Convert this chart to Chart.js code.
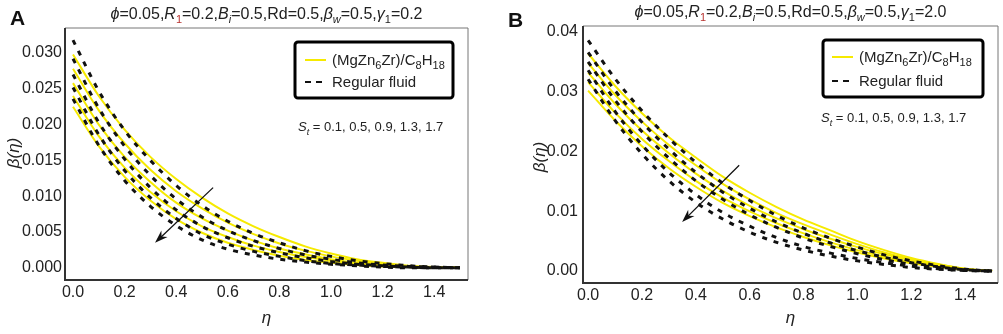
<!DOCTYPE html>
<html lang="en">
<head>
<meta charset="UTF-8">
<title>β(η) profiles</title>
<script src="https://cdn.jsdelivr.net/npm/chart.js"></script>
<style>
body { margin: 0; background: #fff; }
.panel { position: absolute; top: 0; }
</style>
</head>
<body>
<div class="panel" style="left:0"><canvas id="chartA" width="500" height="334"></canvas></div>
<div class="panel" style="left:500px"><canvas id="chartB" width="503" height="334"></canvas></div>
<script>
// eta grid the curves were read on
const eta = [0.0, 0.1, 0.2, 0.3, 0.4, 0.5, 0.6, 0.7, 0.8, 0.9, 1.0, 1.1, 1.2, 1.3, 1.4, 1.5];
const stValues = ['0.1', '0.5', '0.9', '1.3', '1.7'];

// panel A (gamma1 = 0.2), one row per St
const nanoA = [
   [0.0298, 0.0240, 0.0193, 0.0155, 0.0124, 0.0098, 0.0076, 0.0058, 0.0043, 0.0030, 0.0020, 0.0012, 0.0007, 0.0003, 0.0001, 0.0000],
   [0.0278, 0.0220, 0.0174, 0.0137, 0.0107, 0.0083, 0.0063, 0.0047, 0.0034, 0.0024, 0.0016, 0.0010, 0.0005, 0.0002, 0.0001, 0.0000],
   [0.0258, 0.0200, 0.0155, 0.0120, 0.0091, 0.0069, 0.0052, 0.0038, 0.0027, 0.0019, 0.0012, 0.0007, 0.0004, 0.0002, 0.0001, 0.0000],
   [0.0240, 0.0184, 0.0140, 0.0106, 0.0079, 0.0058, 0.0043, 0.0031, 0.0022, 0.0015, 0.0010, 0.0006, 0.0003, 0.0001, 0.0000, 0.0000],
   [0.0225, 0.0170, 0.0127, 0.0094, 0.0068, 0.0049, 0.0035, 0.0025, 0.0017, 0.0011, 0.0007, 0.0004, 0.0002, 0.0001, 0.0000, 0.0000]
];
const regularA = [
   [0.0318, 0.0247, 0.0192, 0.0150, 0.0115, 0.0087, 0.0065, 0.0048, 0.0035, 0.0024, 0.0016, 0.0010, 0.0006, 0.0003, 0.0001, 0.0000],
   [0.0292, 0.0223, 0.0170, 0.0129, 0.0096, 0.0071, 0.0052, 0.0038, 0.0027, 0.0018, 0.0012, 0.0007, 0.0004, 0.0002, 0.0001, 0.0000],
   [0.0270, 0.0203, 0.0152, 0.0112, 0.0081, 0.0058, 0.0042, 0.0030, 0.0021, 0.0014, 0.0009, 0.0005, 0.0003, 0.0001, 0.0000, 0.0000],
   [0.0252, 0.0186, 0.0136, 0.0098, 0.0069, 0.0047, 0.0033, 0.0023, 0.0016, 0.0010, 0.0006, 0.0004, 0.0002, 0.0001, 0.0000, 0.0000],
   [0.0236, 0.0171, 0.0122, 0.0086, 0.0059, 0.0039, 0.0026, 0.0018, 0.0012, 0.0008, 0.0005, 0.0003, 0.0001, 0.0000, 0.0000, 0.0000]
];

// panel B (gamma1 = 2.0)
const nanoB = [
   [0.0364, 0.0310, 0.0264, 0.0224, 0.0190, 0.0158, 0.0131, 0.0107, 0.0086, 0.0068, 0.0050, 0.0035, 0.0022, 0.0012, 0.0004, 0.0000],
   [0.0348, 0.0295, 0.0250, 0.0211, 0.0177, 0.0146, 0.0120, 0.0097, 0.0078, 0.0061, 0.0045, 0.0031, 0.0020, 0.0011, 0.0004, 0.0000],
   [0.0332, 0.0280, 0.0235, 0.0197, 0.0163, 0.0134, 0.0109, 0.0088, 0.0070, 0.0054, 0.0040, 0.0028, 0.0018, 0.0010, 0.0003, 0.0000],
   [0.0316, 0.0265, 0.0221, 0.0184, 0.0151, 0.0123, 0.0100, 0.0080, 0.0063, 0.0048, 0.0035, 0.0024, 0.0015, 0.0008, 0.0003, 0.0000],
   [0.0302, 0.0252, 0.0209, 0.0172, 0.0141, 0.0114, 0.0092, 0.0073, 0.0057, 0.0043, 0.0031, 0.0021, 0.0013, 0.0007, 0.0002, 0.0000]
];
const regularB = [
   [0.0386, 0.0322, 0.0268, 0.0222, 0.0182, 0.0147, 0.0118, 0.0093, 0.0072, 0.0055, 0.0040, 0.0027, 0.0017, 0.0009, 0.0003, 0.0000],
   [0.0366, 0.0302, 0.0249, 0.0204, 0.0165, 0.0132, 0.0105, 0.0082, 0.0063, 0.0047, 0.0034, 0.0023, 0.0014, 0.0007, 0.0002, 0.0000],
   [0.0350, 0.0286, 0.0233, 0.0189, 0.0151, 0.0120, 0.0094, 0.0073, 0.0055, 0.0041, 0.0029, 0.0019, 0.0011, 0.0006, 0.0002, 0.0000],
   [0.0336, 0.0267, 0.0211, 0.0165, 0.0128, 0.0098, 0.0075, 0.0056, 0.0041, 0.0030, 0.0021, 0.0014, 0.0008, 0.0004, 0.0001, 0.0000],
   [0.0321, 0.0252, 0.0196, 0.0151, 0.0115, 0.0087, 0.0065, 0.0048, 0.0035, 0.0025, 0.0017, 0.0011, 0.0006, 0.0003, 0.0001, 0.0000]
];

const etaTicks = [0, 0.2, 0.4, 0.6, 0.8, 1.0, 1.2, 1.4];
const betaTicksA = [0, 0.005, 0.010, 0.015, 0.020, 0.025, 0.030];
const betaTicksB = [0, 0.01, 0.02, 0.03, 0.04];

const FONT = '"Liberation Sans", Arial, sans-serif';
const YELLOW = '#f6ea00';
const INK = '#222';

// text with italic parts and subscripts, segs = [[text, flags], ...]
function drawRich(ctx, segs, x, y, size, align) {
   const parts = segs.map(([t, f = '']) => {
      const sub = f.includes('sub');
      const fs = sub ? Math.round(size * 0.7) : size;
      const font = (f.includes('i') ? 'italic ' : '') + fs + 'px ' + FONT;
      ctx.font = font;
      return { t, font, w: ctx.measureText(t).width, dy: sub ? size * 0.28 : 0, color: f.includes('red') ? '#b8322f' : INK };
   });
   const total = parts.reduce((s, p) => s + p.w, 0);
   let cx = align === 'center' ? x - total / 2 : x;
   ctx.textAlign = 'left';
   ctx.textBaseline = 'alphabetic';
   parts.forEach(p => {
      ctx.font = p.font;
      ctx.fillStyle = p.color;
      ctx.fillText(p.t, cx, y + p.dy);
      cx += p.w;
   });
}

const titleSegs = (g) => [
   ['ϕ', 'i'], ['=0.05,'], ['R', 'i'], ['1', 'sub red'], ['=0.2,'], ['B', 'i'], ['i', 'i sub'],
   ['=0.5,Rd=0.5,'], ['β', 'i'], ['w', 'i sub'], ['=0.5,'], ['γ', 'i'], ['1', 'sub'], ['=' + g]
];
const legendSegs = [['(MgZn'], ['6', 'sub'], ['Zr)/C'], ['8', 'sub'], ['H'], ['18', 'sub']];
const stSegs = [['S', 'i'], ['t', 'i sub'], [' = ' + stValues.join(', ')]];

const panelDecor = {
   id: 'panelDecor',
   afterDraw(chart, args, o) {
      const { ctx, chartArea: a, scales: { x, y } } = chart;
      ctx.save();

      // frame
      ctx.strokeStyle = '#777';
      ctx.lineWidth = 1;
      ctx.beginPath();
      ctx.moveTo(a.left, a.top); ctx.lineTo(a.right, a.top); ctx.lineTo(a.right, a.bottom);
      ctx.stroke();
      ctx.strokeStyle = '#333';
      ctx.lineWidth = 2;
      ctx.beginPath();
      ctx.moveTo(a.left, a.top); ctx.lineTo(a.left, a.bottom); ctx.lineTo(a.right, a.bottom);
      ctx.stroke();

      // panel letter and title
      ctx.fillStyle = '#111';
      ctx.font = 'bold 21px ' + FONT;
      ctx.textAlign = 'left';
      ctx.textBaseline = 'alphabetic';
      ctx.fillText(o.letter, o.letterX, o.letterY);
      drawRich(ctx, titleSegs(o.gamma), (a.left + a.right) / 2, o.titleY, 16, 'center');

      // axis titles
      ctx.fillStyle = INK;
      ctx.font = 'italic 17px ' + FONT;
      ctx.textAlign = 'center';
      ctx.textBaseline = 'middle';
      ctx.fillText('η', (a.left + a.right) / 2, 318);
      ctx.save();
      ctx.translate(o.yLabelX, o.yLabelY);
      ctx.rotate(-Math.PI / 2);
      ctx.fillText('β(η)', 0, 0);
      ctx.restore();

      // legend box
      const L = o.legend;
      ctx.strokeStyle = '#000';
      ctx.lineWidth = 3;
      ctx.beginPath();
      ctx.roundRect(L.x0, L.y0, L.x1 - L.x0, L.y1 - L.y0, 3);
      ctx.stroke();
      ctx.strokeStyle = YELLOW;
      ctx.lineWidth = 2;
      ctx.beginPath();
      ctx.moveTo(L.lx0, L.r1); ctx.lineTo(L.lx1, L.r1);
      ctx.stroke();
      ctx.strokeStyle = '#111';
      ctx.setLineDash([6, 5]);
      ctx.beginPath();
      ctx.moveTo(L.lx0, L.r2); ctx.lineTo(L.lx1, L.r2);
      ctx.stroke();
      ctx.setLineDash([]);
      drawRich(ctx, legendSegs, L.tx, L.r1 + 5, 15, 'left');
      drawRich(ctx, [['Regular fluid']], L.tx, L.r2 + 5, 15, 'left');

      // St note
      drawRich(ctx, stSegs, o.stX, o.stY + 4, 13, 'left');

      // arrow in data coordinates
      const [e0, b0, e1, b1] = o.arrow;
      const px0 = x.getPixelForValue(e0), py0 = y.getPixelForValue(b0);
      const px1 = x.getPixelForValue(e1), py1 = y.getPixelForValue(b1);
      const ang = Math.atan2(py1 - py0, px1 - px0);
      ctx.strokeStyle = '#111';
      ctx.fillStyle = '#111';
      ctx.lineWidth = 1.3;
      ctx.beginPath();
      ctx.moveTo(px0, py0);
      ctx.lineTo(px1 - 8 * Math.cos(ang), py1 - 8 * Math.sin(ang));
      ctx.stroke();
      ctx.beginPath();
      ctx.moveTo(px1, py1);
      ctx.lineTo(px1 - 13 * Math.cos(ang) + 4.5 * Math.sin(ang), py1 - 13 * Math.sin(ang) - 4.5 * Math.cos(ang));
      ctx.lineTo(px1 - 9 * Math.cos(ang), py1 - 9 * Math.sin(ang));
      ctx.lineTo(px1 - 13 * Math.cos(ang) - 4.5 * Math.sin(ang), py1 - 13 * Math.sin(ang) + 4.5 * Math.cos(ang));
      ctx.closePath();
      ctx.fill();

      ctx.restore();
   }
};

// black dashed sets first so they are drawn on top of the yellow ones
function buildSets(nano, regular) {
   const toPts = vals => eta.map((e, j) => ({ x: e, y: vals[j] }));
   const sets = [];
   regular.forEach((vals, i) => sets.push({
      label: 'Regular fluid, St=' + stValues[i],
      data: toPts(vals),
      borderColor: '#111',
      borderWidth: 3,
      borderDash: [5, 7],
      pointRadius: 0,
      cubicInterpolationMode: 'monotone',
      fill: false
   }));
   nano.forEach((vals, i) => sets.push({
      label: '(MgZn6Zr)/C8H18, St=' + stValues[i],
      data: toPts(vals),
      borderColor: YELLOW,
      borderWidth: 2,
      pointRadius: 0,
      cubicInterpolationMode: 'monotone',
      fill: false
   }));
   return sets;
}

function makePanel(id, p) {
   const tickFont = { family: FONT, size: 16 };
   new Chart(document.getElementById(id), {
      type: 'line',
      data: { datasets: buildSets(p.nano, p.regular) },
      plugins: [panelDecor],
      options: {
         responsive: false,
         animation: false,
         devicePixelRatio: 1,
         layout: { padding: { top: p.top, right: p.right, left: 0, bottom: 0 } },
         plugins: {
            legend: { display: false },
            tooltip: { enabled: false },
            panelDecor: p.decor
         },
         scales: {
            x: {
               type: 'linear',
               min: p.xMin,
               max: p.xMax,
               afterBuildTicks: s => { s.ticks = etaTicks.map(v => ({ value: v })); },
               afterFit: s => { s.height = p.xAxisH; },
               grid: { display: false, drawTicks: false },
               border: { display: false },
               ticks: { padding: 3, color: INK, font: tickFont, maxRotation: 0, callback: v => v.toFixed(1) }
            },
            y: {
               type: 'linear',
               min: p.yMin,
               max: p.yMax,
               afterBuildTicks: s => { s.ticks = p.yTicks.map(v => ({ value: v })); },
               afterFit: s => { s.width = p.yAxisW; },
               grid: { display: false, drawTicks: false },
               border: { display: false },
               ticks: { padding: p.yPad, color: INK, font: tickFont, callback: v => v.toFixed(p.yDigits) }
            }
         }
      }
   });
}

makePanel('chartA', {
   nano: nanoA, regular: regularA, yTicks: betaTicksA, yDigits: 3,
   xMin: -0.031, xMax: 1.531, yMin: -0.0017, yMax: 0.0335,
   top: 28, right: 32, yAxisW: 65, xAxisH: 54, yPad: 3,
   decor: {
      letter: 'A', letterX: 10, letterY: 25, gamma: '0.2', titleY: 19,
      yLabelX: 14, yLabelY: 153,
      legend: { x0: 295, y0: 42, x1: 453, y1: 98, lx0: 305, lx1: 326, tx: 332, r1: 60, r2: 82 },
      stX: 298, stY: 127,
      arrow: [0.543, 0.0112, 0.318, 0.0035]
   }
});

makePanel('chartB', {
   nano: nanoB, regular: regularB, yTicks: betaTicksB, yDigits: 2,
   xMin: -0.019, xMax: 1.522, yMin: -0.002, yMax: 0.041,
   top: 26, right: 5, yAxisW: 83, xAxisH: 51, yPad: 5,
   decor: {
      letter: 'B', letterX: 8, letterY: 27, gamma: '2.0', titleY: 17,
      yLabelX: 40, yLabelY: 157,
      legend: { x0: 323, y0: 40, x1: 483, y1: 97, lx0: 332, lx1: 353, tx: 359, r1: 57, r2: 81 },
      stX: 321, stY: 118,
      arrow: [0.561, 0.0177, 0.349, 0.0082]
   }
});
</script>
</body>
</html>
